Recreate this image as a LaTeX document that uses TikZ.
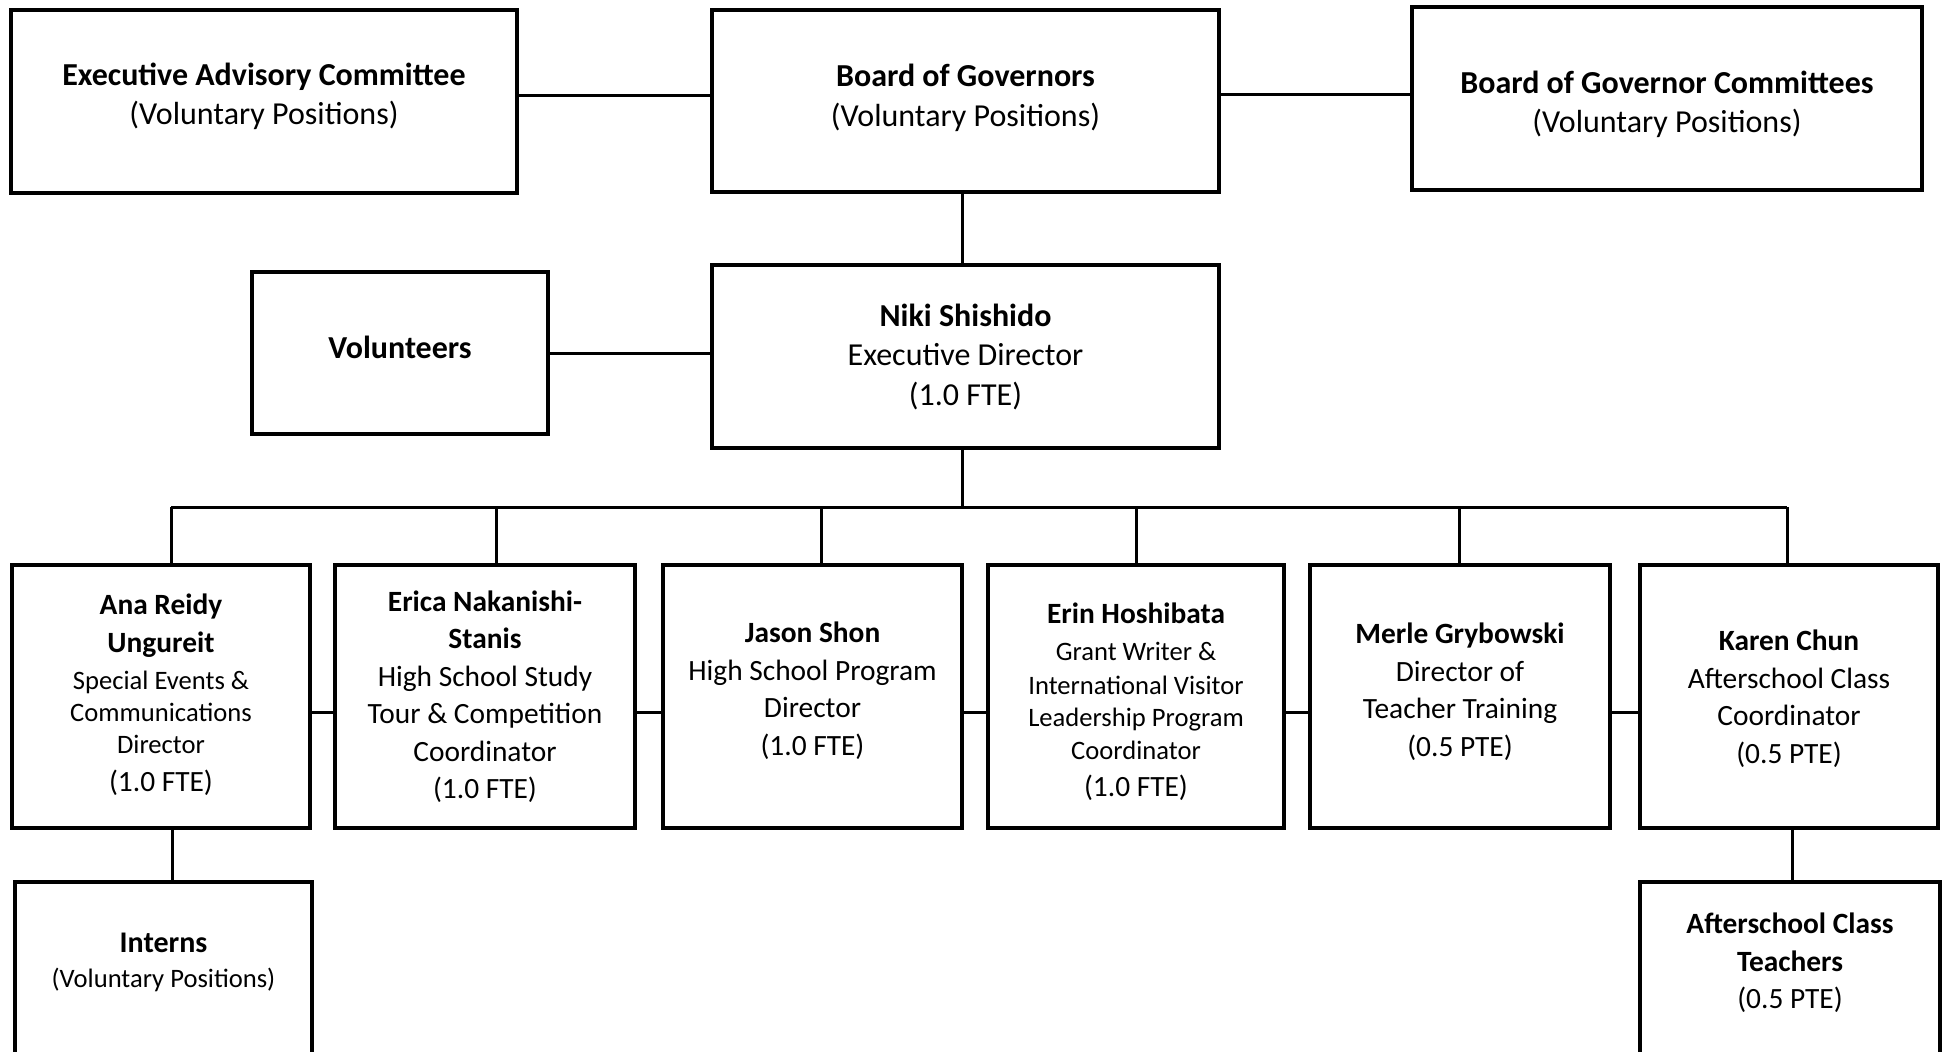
\documentclass[tikz,border=0pt]{standalone}
\usepackage{fontspec}
\setmainfont{Carlito}
\newcommand{\szA}{\fontsize{32}{39.5}\selectfont}
\newcommand{\szB}{\fontsize{29.4}{37.5}\selectfont}
\newcommand{\smline}[1]{{\fontsize{26.6}{32}\selectfont #1}}
\begin{document}
\begin{tikzpicture}[x=1pt,y=-1pt,
  boxbase/.style={draw, line width=4pt, inner sep=0pt},
  rowbox/.style={boxbase, minimum width=298pt, minimum height=263pt},
  lowbox/.style={boxbase, minimum width=298pt, minimum height=172pt},
  txtA/.style={inner sep=0pt, align=center, font=\szA},
  txtB/.style={inner sep=0pt, align=center, font=\szB},
  link/.style={line width=3pt}]
\useasboundingbox[fill=white] (0,0) rectangle (1944,1052);

% top row
\node[boxbase, minimum width=506pt, minimum height=183pt] (eac) at (264,101.5) {};
\node[txtA] (eac-t) at ([yshift=5pt]eac.center)
  {\textbf{Executive Advisory Committee}\\(Voluntary Positions)};
\node[boxbase, minimum width=507pt, minimum height=182pt] (bog) at (965.5,101) {};
\node[txtA] (bog-t) at ([yshift=3pt]bog.center)
  {\textbf{Board of Governors}\\(Voluntary Positions)};
\node[boxbase, minimum width=510pt, minimum height=183pt] (bogc) at (1667,98.5) {};
\node[txtA] (bogc-t) at ([yshift=-6pt]bogc.center)
  {\textbf{Board of Governor Committees}\\(Voluntary Positions)};

% second row
\node[boxbase, minimum width=296pt, minimum height=162pt] (vol) at (400,353) {};
\node[txtA] (vol-t) at ([yshift=6pt]vol.center) {\textbf{Volunteers}};
\node[boxbase, minimum width=507pt, minimum height=183pt] (niki) at (965.5,356.5) {};
\node[txtA] (niki-t) at (niki.center)
  {\textbf{Niki Shishido}\\Executive Director\\(1.0 FTE)};

% staff row
\node[rowbox] (ana) at (161,696.5) {};
\node[txtB] (ana-t) at ([yshift=2pt]ana.center)
  {\textbf{Ana Reidy}\\\textbf{Ungureit}\\\smline{Special Events \&}\\[-5.5pt]\smline{Communications}\\[-5.5pt]\smline{Director}\\(1.0 FTE)};
\node[rowbox, minimum width=300pt] (erica) at (485,696.5) {};
\node[txtB] (erica-t) at (erica.center)
  {\textbf{Erica Nakanishi-}\\\textbf{Stanis}\\High School Study\\Tour \& Competition\\Coordinator\\(1.0 FTE)};
\node[rowbox, minimum width=299pt] (jason) at (812.5,696.5) {};
\node[txtB] (jason-t) at ([yshift=6pt]jason.center)
  {\textbf{Jason Shon}\\High School Program\\Director\\(1.0 FTE)};
\node[rowbox, minimum width=296pt] (erin) at (1136,696.5) {};
\node[txtB] (erin-t) at ([yshift=-5pt]erin.center)
  {\textbf{Erin Hoshibata}\\\smline{Grant Writer \&}\\[-4pt]\smline{International Visitor}\\[-5pt]\smline{Leadership Program}\\[-5pt]\smline{Coordinator}\\(1.0 FTE)};
\node[rowbox, minimum width=300pt] (merle) at (1460,696.5) {};
\node[txtB] (merle-t) at ([yshift=5pt]merle.center)
  {\textbf{Merle Grybowski}\\Director of\\Teacher Training\\(0.5 PTE)};
\node[rowbox] (karen) at (1789,696.5) {};
\node[txtB] (karen-t) at ([yshift=-2pt]karen.center)
  {\textbf{Karen Chun}\\Afterschool Class\\Coordinator\\(0.5 PTE)};

% bottom row
\node[lowbox, minimum width=297pt] (interns) at (163.5,968) {};
\node[txtB] (interns-t) at ([yshift=6pt]interns.center)
  {{\fontsize{30}{35}\selectfont\textbf{Interns}}\\[-2.5pt]\smline{(Voluntary Positions)}};
\node[lowbox, minimum width=300pt] (teach) at (1790,968) {};
\node[txtB] (teach-t) at ([yshift=5pt]teach.center)
  {\textbf{Afterschool Class}\\\textbf{Teachers}\\(0.5 PTE)};

% connectors
\coordinate (h1) at (0,95);
\coordinate (h2) at (0,94);
\coordinate (nx) at (962,0);
\coordinate (bus) at (0,507);
\coordinate (r) at (0,712);
\coordinate (d1) at (171,507);
\coordinate (d2) at (496,507);
\coordinate (d3) at (821,507);
\coordinate (d4) at (1136,507);
\coordinate (d5) at (1459,507);
\coordinate (d6) at (1787,507);
\coordinate (ix) at (172,0);
\coordinate (tx) at (1792,0);

\draw[link] (eac.east |- h1) -- (bog.west |- h1);
\draw[link] (bog.east |- h2) -- (bogc.west |- h2);
\draw[link] (bog.south -| nx) -- (niki.north -| nx);
\draw[link] (vol.east) -- (vol.east -| niki.west);
\draw[link] (niki.south -| nx) -- (nx |- bus);
\draw[link] (d1) -- (d6);
\draw[link] (d1) -- (d1 |- ana.north);
\draw[link] (d2) -- (d2 |- erica.north);
\draw[link] (d3) -- (d3 |- jason.north);
\draw[link] (d4) -- (d4 |- erin.north);
\draw[link] (d5) -- (d5 |- merle.north);
\draw[link] (d6) -- (d6 |- karen.north);
\draw[link] (ana.east |- r) -- (erica.west |- r);
\draw[link] (erica.east |- r) -- (jason.west |- r);
\draw[link] (jason.east |- r) -- (erin.west |- r);
\draw[link] (erin.east |- r) -- (merle.west |- r);
\draw[link] (merle.east |- r) -- (karen.west |- r);
\draw[link] (ana.south -| ix) -- (interns.north -| ix);
\draw[link] (karen.south -| tx) -- (teach.north -| tx);
\end{tikzpicture}
\end{document}
